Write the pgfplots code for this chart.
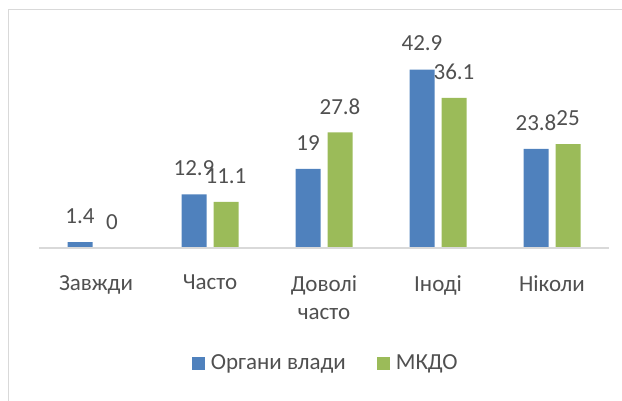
\documentclass[border=0pt]{standalone}
\usepackage{pgfplots}
\pgfplotsset{compat=1.18}
\usepackage{fontspec}
\setmainfont{Carlito}
\definecolor{cblue}{HTML}{4F81BD}
\definecolor{cgreen}{HTML}{9BBB59}
\definecolor{ctext}{HTML}{505050}
\definecolor{cgrid}{HTML}{D9D9D9}
\begin{document}
\begin{tikzpicture}[x=1pt,y=1pt]
\useasboundingbox (0,0) rectangle (622,400);
\draw[cgrid, line width=1pt] (8,-5) -- (8,390) -- (630,390);
\begin{axis}[
  at={(39pt,152pt)}, anchor=south west,
  scale only axis, width=570pt, height=208pt,
  xmin=-0.5, xmax=4.5, ymin=0, ymax=50,
  ybar, bar width=25pt,
  axis line style={draw=none},
  ytick=\empty,
  xtick={0,1,2,3,4},
  xticklabels={Завжди, Часто, {Доволі\\часто}, Іноді, Ніколи},
  major tick length=0pt,
  xticklabel style={align=center, anchor=north, inner sep=0pt, yshift=-27pt, text=ctext, font=\fontsize{23}{28}\selectfont},
  /pgf/number format/assume math mode=true,
  nodes near coords,
  every node near coord/.append style={anchor=center, yshift=26pt, text=ctext, font=\fontsize{23}{28}\selectfont},
  clip=false,
  legend columns=2,
  legend style={at={(axis description cs:0.504,-0.553)}, anchor=center, draw=none, fill=none,
    text=ctext, font=\fontsize{23}{28}\selectfont,
    nodes={inner sep=3pt},
    /tikz/every odd column/.append style={column sep=3pt},
    /tikz/every even column/.append style={column sep=28pt}},
  legend image code/.code={\fill[#1] (0pt,-6.5pt) rectangle (13pt,6.5pt);},
]
\addplot[draw=none, fill=cblue, bar shift=-16pt] coordinates {(0,1.4) (1,12.9) (2,19) (3,42.9) (4,23.8)};
\addplot[draw=none, fill=cgreen, bar shift=16pt] coordinates {(0,0) (1,11.1) (2,27.8) (3,36.1) (4,25)};
\legend{Органи влади, МКДО}
\draw[cgrid, line width=1.2pt] (axis cs:-0.5,0) -- (axis cs:4.5,0);
\end{axis}
\end{tikzpicture}
\end{document}
